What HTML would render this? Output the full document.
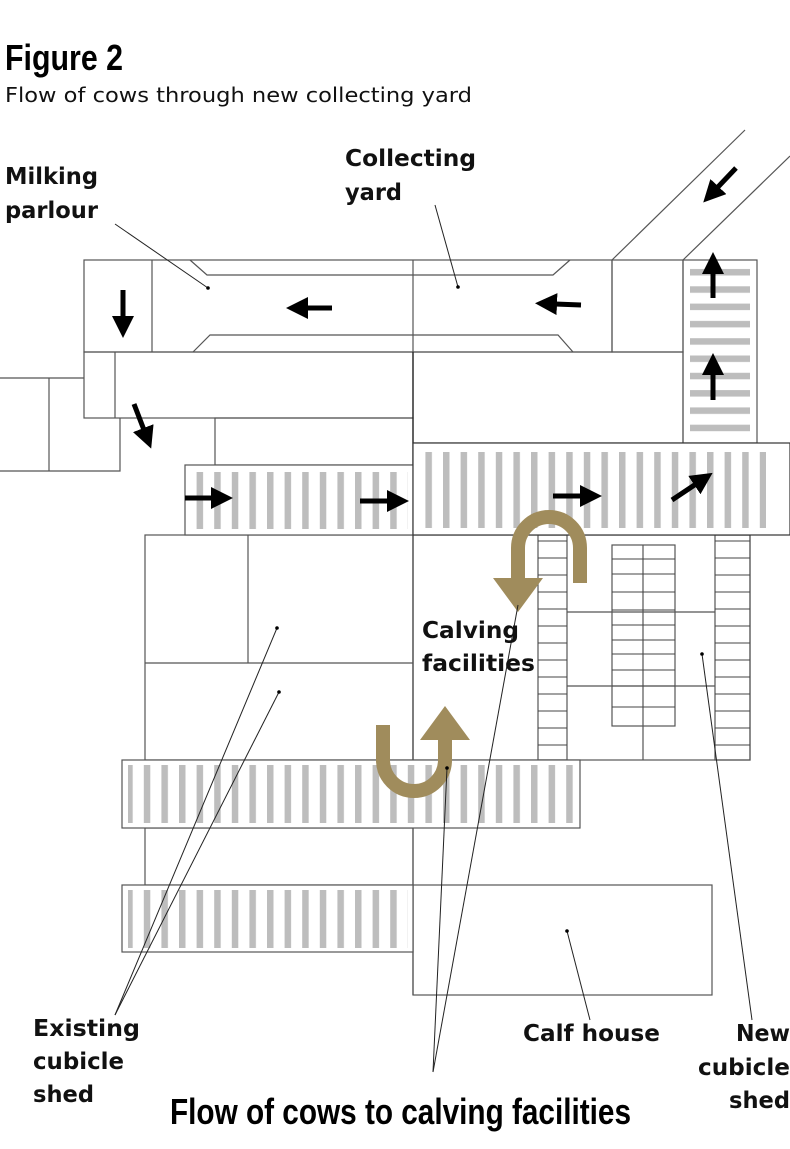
<!DOCTYPE html>
<html><head><meta charset="utf-8"><style>
html,body{margin:0;padding:0;background:#fff;}
svg{display:block;}
.l{font-family:"DejaVu Sans","Liberation Sans",sans-serif;font-weight:bold;font-size:23px;fill:#111;}
.c{font-family:"Liberation Sans",sans-serif;font-weight:bold;fill:#000;}
</style></head><body>
<svg width="790" height="1149" viewBox="0 0 790 1149" xmlns="http://www.w3.org/2000/svg">
<defs>
<pattern id="vs" patternUnits="userSpaceOnUse" width="17.6" height="100" x="3"><rect x="0" y="0" width="6.5" height="100" fill="#bdbdbd"/></pattern>
<pattern id="hs" patternUnits="userSpaceOnUse" width="100" height="17.3" y="264"><rect x="0" y="5" width="100" height="6.5" fill="#bdbdbd"/></pattern>
<marker id="ah" markerUnits="userSpaceOnUse" markerWidth="22" markerHeight="22" refX="2" refY="11" orient="auto"><path d="M0,0 L22,11 L0,22 Z" fill="#000"/></marker>
<marker id="gh" markerUnits="userSpaceOnUse" markerWidth="54" markerHeight="50" refX="2" refY="25" orient="auto"><path d="M0,0 L34,25 L0,50 Z" fill="#a08c5c"/></marker>
</defs>

<text x="5" y="70" class="c" font-size="36" textLength="118" lengthAdjust="spacingAndGlyphs">Figure 2</text>
<text x="5" y="102" font-family="DejaVu Sans,Liberation Sans,sans-serif" font-size="20" fill="#111" textLength="467" lengthAdjust="spacingAndGlyphs">Flow of cows through new collecting yard</text>

<g fill="none" stroke="#555" stroke-width="1.2">
<line x1="612" y1="260" x2="745" y2="130"/>
<line x1="683" y1="260" x2="790" y2="156"/>
<rect x="84" y="260" width="528" height="92"/>
<line x1="152" y1="260" x2="152" y2="352"/>
<line x1="413" y1="260" x2="413" y2="352"/>
<rect x="612" y="260" width="71" height="92"/>
<polyline points="190,260 207,275 553,275 570,260"/>
<polyline points="193,352 210,335 558,335 573,352"/>
<rect x="683" y="260" width="74" height="183"/>
<rect x="84" y="352" width="329" height="66"/>
<line x1="115" y1="352" x2="115" y2="418"/>
<polyline points="0,378 84,378"/>
<line x1="49" y1="378" x2="49" y2="471"/>
<polyline points="0,471 120,471 120,418"/>
<rect x="215" y="418" width="198" height="47"/>
<rect x="413" y="352" width="270" height="91"/>
<line x1="413" y1="352" x2="413" y2="995" stroke="#222"/>
<rect x="145" y="535" width="268" height="225"/>
<line x1="248" y1="535" x2="248" y2="663"/>
<line x1="145" y1="663" x2="413" y2="663"/>
<rect x="145" y="828" width="268" height="57"/>
<rect x="413" y="535" width="337" height="225"/>
<rect x="538" y="535" width="29" height="225"/>
<rect x="612" y="545" width="63" height="181"/>
<line x1="643" y1="545" x2="643" y2="760"/>
<rect x="715" y="535" width="35" height="225"/>
<line x1="567" y1="612" x2="715" y2="612"/>
<line x1="567" y1="686" x2="715" y2="686"/>
<rect x="413" y="885" width="299" height="110"/>
</g>
<g stroke="#444" stroke-width="1">
<path d="M538 541h29M538 558h29M538 575h29M538 592h29M538 609h29M538 626h29M538 643h29M538 660h29M538 677h29M538 694h29M538 711h29M538 728h29M538 745h29"/>
<path d="M715 541h35M715 558h35M715 575h35M715 592h35M715 609h35M715 626h35M715 643h35M715 660h35M715 677h35M715 694h35M715 711h35M715 728h35M715 745h35"/>
<path d="M612 559h63M612 574h63M612 592h63M612 610h63M612 625h63M612 640h63M612 654h63M612 670h63M612 686h63M612 707h63"/>
</g>

<g>
<rect x="185" y="465" width="228" height="70" fill="#fff" stroke="#555" stroke-width="1.2"/>
<rect x="196" y="472" width="212" height="57" fill="url(#vs)"/>
<rect x="413" y="443" width="377" height="92" fill="#fff" stroke="#333" stroke-width="1.2"/>
<rect x="418" y="452" width="348" height="76" fill="url(#vs)"/>
<rect x="122" y="760" width="458" height="68" fill="#fff" stroke="#555" stroke-width="1.2"/>
<rect x="128" y="765" width="446" height="58" fill="url(#vs)"/>
<rect x="122" y="885" width="291" height="67" fill="#fff" stroke="#555" stroke-width="1.2"/>
<rect x="128" y="890" width="280" height="58" fill="url(#vs)"/>
</g>
<rect x="690" y="264" width="60" height="175" fill="url(#hs)"/>

<g stroke="#000" stroke-width="5" fill="none">
<line x1="123" y1="290" x2="123" y2="318" marker-end="url(#ah)"/>
<line x1="332" y1="308" x2="306" y2="308" marker-end="url(#ah)"/>
<line x1="581" y1="305" x2="555" y2="304" marker-end="url(#ah)"/>
<line x1="736" y1="168" x2="717" y2="188" marker-end="url(#ah)"/>
<line x1="713" y1="298" x2="713" y2="272" marker-end="url(#ah)"/>
<line x1="713" y1="400" x2="713" y2="373" marker-end="url(#ah)"/>
<line x1="134" y1="404" x2="144" y2="430" marker-end="url(#ah)"/>
<line x1="185" y1="498" x2="213" y2="498" marker-end="url(#ah)"/>
<line x1="360" y1="501" x2="389" y2="501" marker-end="url(#ah)"/>
<line x1="553" y1="496" x2="582" y2="496" marker-end="url(#ah)"/>
<line x1="672" y1="500" x2="696" y2="484" marker-end="url(#ah)"/>
</g>

<g stroke="#a08c5c" stroke-width="14" fill="none">
<path d="M580 583 V548 A31 31 0 0 0 518 548 V580" marker-end="url(#gh)"/>
<path d="M383 725 V760 A31 31 0 0 0 445 760 V738" marker-end="url(#gh)"/>
</g>

<g stroke="#222" stroke-width="1" fill="none">
<line x1="115" y1="224" x2="208" y2="288"/>
<line x1="435" y1="205" x2="458" y2="287"/>
<line x1="115" y1="1015" x2="277" y2="628"/>
<line x1="115" y1="1015" x2="279" y2="692"/>
<line x1="590" y1="1020" x2="567" y2="931"/>
<line x1="752" y1="1020" x2="702" y2="654"/>
<line x1="433" y1="1072" x2="447" y2="768"/>
<line x1="433" y1="1072" x2="518" y2="605"/>
</g>
<g fill="#000">
<circle cx="208" cy="288" r="1.8"/><circle cx="458" cy="287" r="1.8"/>
<circle cx="277" cy="628" r="1.8"/><circle cx="279" cy="692" r="1.8"/>
<circle cx="567" cy="931" r="1.8"/><circle cx="702" cy="654" r="1.8"/>
<circle cx="447" cy="768" r="1.8"/>
</g>

<text class="l" x="5" y="184" textLength="93" lengthAdjust="spacingAndGlyphs">Milking</text>
<text class="l" x="5" y="218" textLength="93" lengthAdjust="spacingAndGlyphs">parlour</text>
<text class="l" x="345" y="166" textLength="131" lengthAdjust="spacingAndGlyphs">Collecting</text>
<text class="l" x="345" y="200" textLength="57" lengthAdjust="spacingAndGlyphs">yard</text>
<text class="l" x="422" y="638" textLength="97" lengthAdjust="spacingAndGlyphs">Calving</text>
<text class="l" x="422" y="671" textLength="113" lengthAdjust="spacingAndGlyphs">facilities</text>
<text class="l" x="33" y="1036" textLength="107" lengthAdjust="spacingAndGlyphs">Existing</text>
<text class="l" x="33" y="1069" textLength="91" lengthAdjust="spacingAndGlyphs">cubicle</text>
<text class="l" x="33" y="1102" textLength="61" lengthAdjust="spacingAndGlyphs">shed</text>
<text class="l" x="523" y="1041" textLength="137" lengthAdjust="spacingAndGlyphs">Calf house</text>
<text class="l" x="736" y="1041" textLength="54" lengthAdjust="spacingAndGlyphs">New</text>
<text class="l" x="698" y="1075" textLength="92" lengthAdjust="spacingAndGlyphs">cubicle</text>
<text class="l" x="729" y="1108" textLength="61" lengthAdjust="spacingAndGlyphs">shed</text>
<text class="c" x="170" y="1124" font-size="36" textLength="461" lengthAdjust="spacingAndGlyphs">Flow of cows to calving facilities</text>
</svg>
</body></html>
